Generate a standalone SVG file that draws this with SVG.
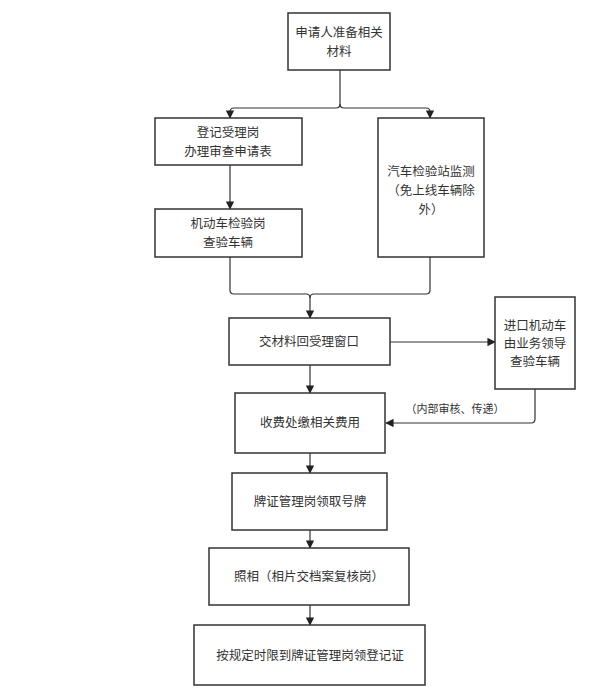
<svg xmlns="http://www.w3.org/2000/svg" width="600" height="692" viewBox="0 0 600 692">
<style>
rect{fill:#fff;stroke:#333;stroke-width:1.5}
text{font-family:"Noto Sans CJK SC","Noto Sans",sans-serif;font-size:12.5px;fill:#333;text-anchor:middle}
.c{fill:none;stroke:#333;stroke-width:1.2}
</style>
<defs><marker id="a" viewBox="0 0 10 10" refX="9" refY="5" markerWidth="7" markerHeight="7" orient="auto"><path d="M0,0L10,5L0,10z" fill="#222"/></marker></defs>
<rect width="600" height="692" style="fill:#fff;stroke:none"/>
<g id="connectors">
<path class="c" d="M340,70V104Q340,108 336,108H234Q230,108 230,112V118" marker-end="url(#a)"/>
<path class="c" d="M340,104Q340,108 344,108H426Q430,108 430,112V118" marker-end="url(#a)"/>
<path class="c" d="M230,165V209" marker-end="url(#a)"/>
<path class="c" d="M230,257V290Q230,294 234,294H306Q310,294 310,298V318" marker-end="url(#a)"/>
<path class="c" d="M430,257V290Q430,294 426,294H314Q310,294 310,298"/>
<path class="c" d="M390,342H495" marker-end="url(#a)"/>
<path class="c" d="M535,389V419Q535,423 531,423H386" marker-end="url(#a)"/>
<path class="c" d="M310,365V393" marker-end="url(#a)"/>
<path class="c" d="M310,453V473" marker-end="url(#a)"/>
<path class="c" d="M310,530V548" marker-end="url(#a)"/>
<path class="c" d="M310,605V625" marker-end="url(#a)"/>
<text x="455" y="413" style="font-size:11px">（内部审核、传递）</text>
</g>
<g id="n1"><rect x="288" y="13" width="102" height="57"/><text x="339" y="37">申请人准备相关</text><text x="339" y="56">材料</text></g>
<g id="n2"><rect x="155" y="118" width="147" height="47"/><text x="228" y="137">登记受理岗</text><text x="228" y="156">办理审查申请表</text></g>
<g id="n3"><rect x="378" y="118" width="106" height="139"/><text x="431" y="176">汽车检验站监测</text><text x="431" y="195">（免上线车辆除</text><text x="431" y="214">外）</text></g>
<g id="n4"><rect x="155" y="209" width="147" height="48"/><text x="228" y="228">机动车检验岗</text><text x="228" y="247">查验车辆</text></g>
<g id="n5"><rect x="229" y="318" width="161" height="47"/><text x="309" y="346">交材料回受理窗口</text></g>
<g id="n6"><rect x="495" y="297" width="80" height="92"/><text x="535" y="330">进口机动车</text><text x="535" y="348">由业务领导</text><text x="535" y="366">查验车辆</text></g>
<g id="n7"><rect x="235" y="393" width="150" height="60"/><text x="310" y="427">收费处缴相关费用</text></g>
<g id="n8"><rect x="232" y="473" width="155" height="57"/><text x="310" y="506">牌证管理岗领取号牌</text></g>
<g id="n9"><rect x="209" y="548" width="200" height="57"/><text x="309" y="581">照相（相片交档案复核岗）</text></g>
<g id="n10"><rect x="194" y="625" width="231" height="60"/><text x="310" y="660">按规定时限到牌证管理岗领登记证</text></g>
</svg>
